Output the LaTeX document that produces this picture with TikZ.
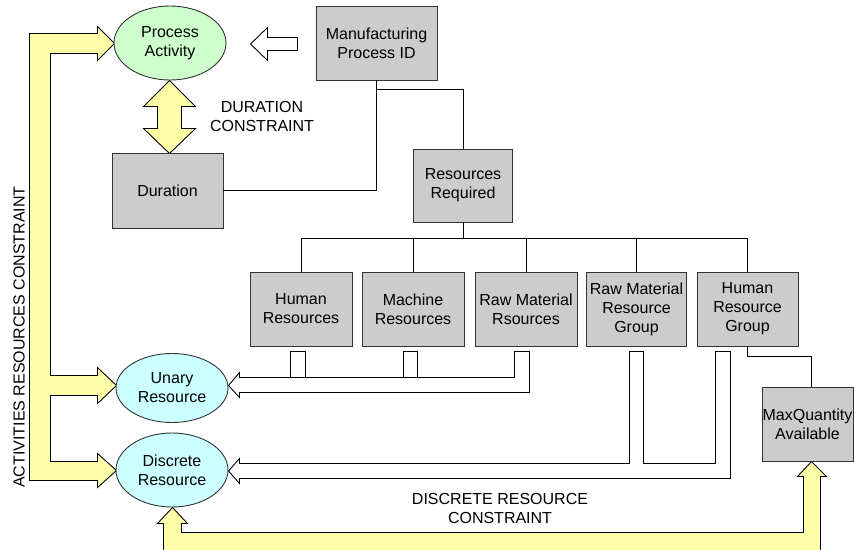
\documentclass[tikz,border=0pt]{standalone}
\usepackage{fontspec}
\setmainfont{Liberation Sans}
\usetikzlibrary{shapes.geometric}
\definecolor{boxgray}{HTML}{CCCCCC}
\definecolor{pagreen}{HTML}{CCFFCC}
\definecolor{rescyan}{HTML}{CCFFFF}
\definecolor{yellowarrow}{HTML}{FFFFAA}
\definecolor{edgecol}{HTML}{333333}
\begin{document}
\begin{tikzpicture}[x=1pt,y=-1pt,
  lbl/.style={font=\fontsize{16}{19}\selectfont, align=center, inner sep=0pt, text=black},
  graybox/.style={lbl, rectangle, draw=edgecol, fill=boxgray, line width=0.9pt},
  oval/.style={lbl, ellipse, draw=edgecol, line width=0.9pt, minimum width=112pt},
  conn/.style={draw=black, line width=0.9pt},
  blockarrow/.style={draw=black, line width=0.9pt, line join=miter},
  yarrow/.style={blockarrow, fill=yellowarrow},
  warrow/.style={blockarrow, fill=white}]
\fill[white] (0,0) rectangle (854,549);
\useasboundingbox (0,0) rectangle (854,549);

\begin{scope}[shift={(0.5,0.5)}]
% big yellow activities constraint arrow
\path[yarrow] (29,33) -- (97,33) -- (97,26) -- (114,43) -- (97,60) -- (97,53) -- (50,53)
  -- (50,375) -- (97,375) -- (97,367) -- (116,385) -- (97,403) -- (97,395) -- (50,395)
  -- (50,461) -- (97,461) -- (97,453) -- (116,470) -- (97,487) -- (97,480) -- (29,480) -- cycle;

% discrete resource constraint arrow
\path[yarrow] (172,507) -- (187,523) -- (181,523) -- (181,532) -- (803,532) -- (803,476)
  -- (797,476) -- (811,461) -- (826,476) -- (820,476) -- (820,553) -- (163,553)
  -- (163,523) -- (157,523) -- cycle;

% duration constraint double arrow
\path[yarrow] (169,80) -- (195,106) -- (181,106) -- (181,128) -- (195,128) -- (169,153)
  -- (143,128) -- (157,128) -- (157,106) -- (143,106) -- cycle;

% white arrow from Manufacturing Process ID
\path[warrow] (297,37) -- (267,37) -- (267,27) -- (250,43.5) -- (267,60) -- (267,50) -- (297,50) -- cycle;

% hollow arrow to Unary Resource
\path[warrow] (228,385) -- (239,372) -- (239,377) -- (514,377) -- (514,351) -- (529,351)
  -- (529,392) -- (239,392) -- (239,397) -- cycle;
\draw[blockarrow] (290,377) -- (290,351) -- (305,351) -- (305,377);
\draw[blockarrow] (403,377) -- (403,351) -- (417,351) -- (417,377);

% hollow arrow to Discrete Resource
\path[warrow] (228,470.5) -- (239,458) -- (239,463) -- (629,463) -- (629,351) -- (643,351)
  -- (643,463) -- (715,463) -- (715,351) -- (730,351) -- (730,478) -- (239,478) -- (239,483) -- cycle;
\end{scope}

% nodes
\node[oval, fill=pagreen, minimum height=74pt] (pa) at (170,43) {Process\\Activity};
\node[oval, fill=rescyan, minimum height=69pt] (ur) at (172,388) {Unary\\Resource};
\node[oval, fill=rescyan, minimum height=74pt] (dr) at (172,470) {Discrete\\Resource};

\node[graybox, minimum width=121pt, minimum height=74pt] (mp) at (376.5,43) {Manufacturing\\Process ID};
\node[graybox, minimum width=111pt, minimum height=75pt] (dur) at (167.5,190.5) {Duration};
\node[graybox, minimum width=99pt, minimum height=73pt] (rr) at (463,185.5) {Resources\\Required};
\node[graybox, minimum width=102pt, minimum height=74pt] (hr) at (301,309) {Human\\Resources};
\node[graybox, minimum width=102pt, minimum height=74pt] (mr) at (413,309) {Machine\\Resources};
\node[graybox, minimum width=102pt, minimum height=74pt] (rmr) at (526,309) {Raw Material\\Rsources};
\node[graybox, minimum width=100pt, minimum height=74pt] (rmg) at (636.5,309) {Raw Material\\Resource\\Group};
\node[graybox, minimum width=101pt, minimum height=74pt] (hrg) at (747.5,309) {Human\\Resource\\Group};
\node[graybox, minimum width=91pt, minimum height=74pt] (mq) at (807.5,424) {MaxQuantity\\Available};

% labels
\node[lbl] (dclbl) at (262,116) {DURATION\\CONSTRAINT};
\node[lbl, rotate=90] (arclbl) at (19,337) {ACTIVITIES RESOURCES CONSTRAINT};
\node[lbl] (drclbl) at (500,508) {DISCRETE RESOURCE\\CONSTRAINT};

% connectors
\draw[conn] (mp.south) |- (dur.east);
\draw[conn] (mp.south) -- ++(0,9) -| (rr.north);
\draw[conn] (rr.south) -- ++(0,16) coordinate (bus);
\draw[conn] (bus) -| (hr.north);
\draw[conn] (bus) -| (mr.north);
\draw[conn] (bus) -| (rmr.north);
\draw[conn] (bus) -| (rmg.north);
\draw[conn] (bus) -| (hrg.north);
\draw[conn] (hrg.south) -- ++(0,10) -| ([xshift=3.5pt]mq.north);
\end{tikzpicture}
\end{document}
